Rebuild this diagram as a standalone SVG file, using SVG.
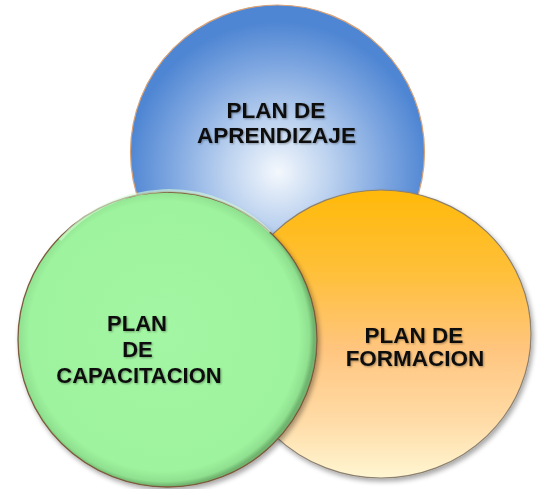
<svg xmlns="http://www.w3.org/2000/svg" width="538" height="489" viewBox="0 0 538 489">
  <defs>
    <radialGradient id="gBlue" gradientUnits="userSpaceOnUse" cx="278" cy="172" r="150">
      <stop offset="0" stop-color="#f4f8fd"/>
      <stop offset="0.35" stop-color="#bcd2ef"/>
      <stop offset="0.7" stop-color="#80a8e1"/>
      <stop offset="1" stop-color="#4f86d3"/>
    </radialGradient>
    <linearGradient id="gOrange" x1="0" y1="0" x2="0" y2="1">
      <stop offset="0" stop-color="#ffb90a"/>
      <stop offset="0.3" stop-color="#ffc03c"/>
      <stop offset="0.55" stop-color="#ffc57e"/>
      <stop offset="0.8" stop-color="#ffdba6"/>
      <stop offset="1" stop-color="#fff6d2"/>
    </linearGradient>
    <radialGradient id="gGreen" gradientUnits="userSpaceOnUse" cx="164" cy="336" r="150">
      <stop offset="0" stop-color="#a3f6a3"/>
      <stop offset="0.9" stop-color="#9ef39e"/>
      <stop offset="0.97" stop-color="#8fe08f"/>
      <stop offset="1" stop-color="#6fb46f"/>
    </radialGradient>
    <filter id="shadow" x="-10%" y="-10%" width="125%" height="125%">
      <feGaussianBlur in="SourceAlpha" stdDeviation="2.5"/>
      <feOffset dx="2" dy="3" result="b"/>
      <feComponentTransfer><feFuncA type="linear" slope="0.35"/></feComponentTransfer>
      <feMerge><feMergeNode/><feMergeNode in="SourceGraphic"/></feMerge>
    </filter>
    <filter id="tshadow" x="-5%" y="-20%" width="110%" height="140%">
      <feGaussianBlur in="SourceAlpha" stdDeviation="0.8"/>
      <feOffset dx="1" dy="1"/>
      <feComponentTransfer><feFuncA type="linear" slope="0.35"/></feComponentTransfer>
      <feMerge><feMergeNode/><feMergeNode in="SourceGraphic"/></feMerge>
    </filter>
  </defs>
  <style>
    .lbl { font-family: "Liberation Sans", Arial, sans-serif; font-weight: bold; fill: #111; text-anchor: middle; filter: url(#tshadow); }
  </style>
  <rect width="538" height="489" fill="#ffffff"/>
  <g id="connectors"/>
  <g id="aprendizaje">
    <circle cx="277.5" cy="152" r="147" fill="url(#gBlue)" stroke="#d9a276" stroke-width="1.2"/>
    <text class="lbl" font-size="22.5" x="276" y="118">PLAN DE</text>
    <text class="lbl" font-size="22.5" x="276.5" y="143">APRENDIZAJE</text>
  </g>
  <g id="formacion">
    <ellipse cx="381" cy="334" rx="150" ry="144" fill="url(#gOrange)" stroke="#8c8070" stroke-width="1.2" filter="url(#shadow)"/>
    <text class="lbl" font-size="22.5" x="414" y="343">PLAN DE</text>
    <text class="lbl" font-size="22.5" x="415" y="366">FORMACION</text>
  </g>
  <g id="capacitacion">
    <ellipse cx="167.5" cy="339.5" rx="149.5" ry="147.5" fill="url(#gGreen)" stroke="#7d5a3c" stroke-width="1.3" filter="url(#shadow)"/>
    <path d="M 60 240 A 143 141 0 0 1 270 232" fill="none" stroke="#d8fcd8" stroke-width="3" stroke-opacity="0.6"/>
    <text class="lbl" font-size="22" x="137" y="331">PLAN</text>
    <text class="lbl" font-size="22" x="137.5" y="357">DE</text>
    <text class="lbl" font-size="22" x="139" y="383">CAPACITACION</text>
  </g>
</svg>
